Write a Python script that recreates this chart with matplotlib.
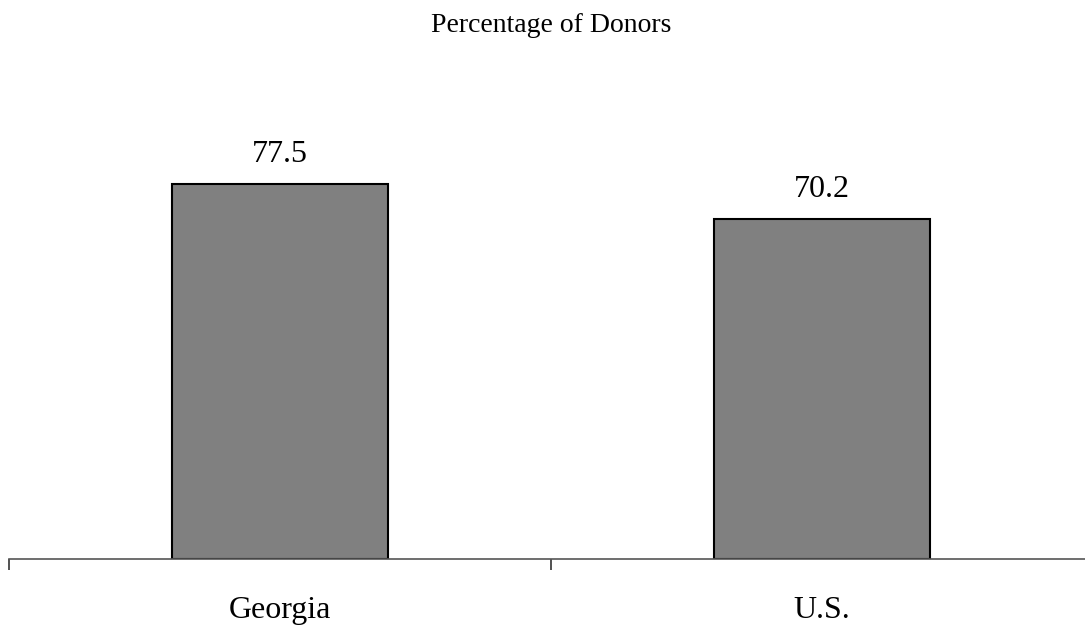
import matplotlib.pyplot as plt

# data
categories = ['Georgia', 'U.S.']
values = [77.5, 70.2]

plt.rcParams['font.family'] = ['Liberation Serif', 'DejaVu Serif']

W, H = 1085, 625
fig = plt.figure(figsize=(W / 100, H / 100), dpi=100)

# axes: x from px 9 to 1093 (two category slots of 542 px), baseline at px 559
left = 9 / W
right = 1093 / W
bottom = 1 - 559 / H
top_px = 75
ax = fig.add_axes([left, bottom, right - left, (559 - top_px) / H])

x = range(len(categories))
bars = ax.bar(x, values, width=0.4, color='#808080', edgecolor='black', linewidth=1.5)
ax.set_xlim(-0.5, 1.5)
ax.set_ylim(0, (559 - top_px) / 4.84)

# value labels above bars
for xi, v in zip(x, values):
    ax.text(xi, v + 4.5, f'{v}', ha='center', va='baseline', fontsize=23)

for s in ['top', 'right', 'left']:
    ax.spines[s].set_visible(False)
ax.spines['bottom'].set_color('#555555')
ax.spines['bottom'].set_linewidth(1.2)
ax.set_yticks([])
ax.set_xticks([-0.5, 0.5, 1.5])
ax.set_xticklabels([])
ax.tick_params(axis='x', direction='out', length=8, width=1.2, color='#333333')

# category labels
for xi, c in zip(x, categories):
    ax.text(xi, -(618 - 559) / (559 - top_px), c, transform=ax.get_xaxis_transform(),
            ha='center', va='baseline', fontsize=23)

fig.text(551 / W, 1 - 32 / H, 'Percentage of Donors', ha='center', va='baseline', fontsize=20)

fig.savefig('out.png', dpi=100)
